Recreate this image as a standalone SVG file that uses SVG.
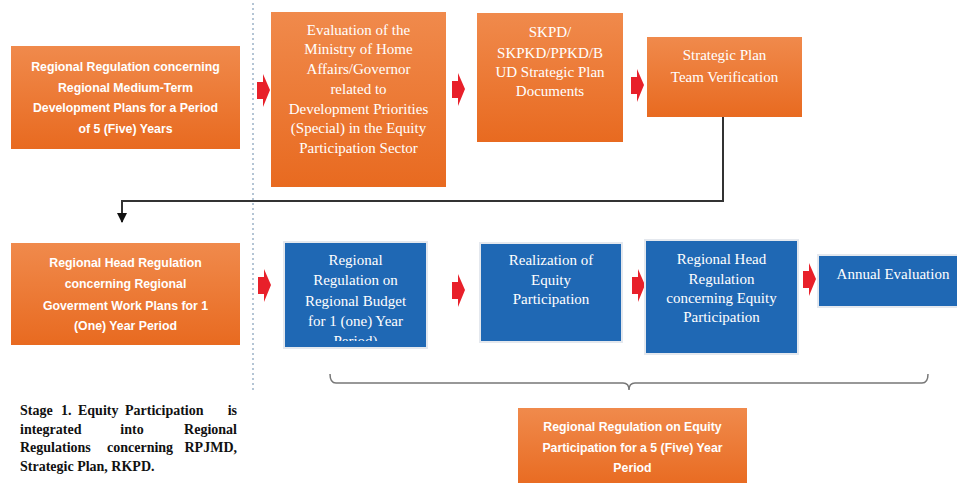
<svg xmlns="http://www.w3.org/2000/svg" width="957" height="483" viewBox="0 0 957 483">
<style>
.org{fill:url(#og)}
.blu{fill:#1F68B4;stroke:#E4E8EE;stroke-width:2}
.sans{font-family:"Liberation Sans",Arial,sans-serif;font-weight:bold;font-size:12.3px;fill:#fff;text-anchor:middle}
.ser{font-family:"Liberation Serif","Times New Roman",serif;font-size:15px;fill:#fff;text-anchor:middle}
.cap{font-family:"Liberation Serif","Times New Roman",serif;font-weight:bold;font-size:14px;fill:#111}
.ra{fill:#E8202A}
.conn{fill:none;stroke:#333;stroke-width:2}
.brace{fill:none;stroke:#777;stroke-width:1.5}
</style>
<defs>
<linearGradient id="og" x1="0" y1="0" x2="0" y2="1">
<stop offset="0" stop-color="#F08A4C"/>
<stop offset="1" stop-color="#E86A20"/>
</linearGradient>
<clipPath id="c6"><rect x="285" y="243" width="141" height="98"/></clipPath>
<marker id="ah" viewBox="0 0 10 10" refX="9" refY="5" markerWidth="5" markerHeight="5" orient="auto-start-reverse" markerUnits="strokeWidth">
<path d="M0,0 L10,5 L0,10 z" fill="#111"/>
</marker>
<path id="rarrow" d="M0,8 L6,8 L6,0 L13,16 L6,33 L6,25 L0,25 z"/>
</defs>
<rect width="957" height="483" fill="#fff"/>
<line x1="253" y1="3" x2="253" y2="393" stroke="#9DB3C8" stroke-width="1.5" stroke-dasharray="2,3"/>

<g id="connectors">
<path class="conn" d="M723,117 V201 H122 V222" marker-end="url(#ah)"/>
<use href="#rarrow" class="ra" x="257" y="74"/>
<use href="#rarrow" class="ra" x="452" y="73"/>
<use href="#rarrow" class="ra" x="631" y="69"/>
<use href="#rarrow" class="ra" x="258" y="269"/>
<use href="#rarrow" class="ra" x="452" y="274"/>
<use href="#rarrow" class="ra" x="632" y="269"/>
<use href="#rarrow" class="ra" x="803" y="263"/>
<path class="brace" d="M330,374 Q330,383 336,383 H623 Q629,383 629,390 Q629,383 635,383 H922 Q928,383 928,374"/>
</g>

<g id="n1"><rect class="org" x="11" y="46" width="229" height="103"/>
<text class="sans"><tspan x="125.5" y="71">Regional Regulation concerning</tspan><tspan x="125.5" y="92">Regional Medium-Term</tspan><tspan x="125.5" y="112">Development Plans for a Period</tspan><tspan x="125.5" y="133">of 5 (Five) Years</tspan></text></g>

<g id="n2"><rect class="org" x="271" y="12" width="175" height="175"/>
<text class="ser"><tspan x="358.5" y="35">Evaluation of the</tspan><tspan x="358.5" y="54">Ministry of  Home</tspan><tspan x="358.5" y="74">Affairs/Governor</tspan><tspan x="358.5" y="94">related to</tspan><tspan x="358.5" y="114">Development Priorities</tspan><tspan x="358.5" y="133">(Special) in the  Equity</tspan><tspan x="358.5" y="153">Participation Sector</tspan></text></g>

<g id="n3"><rect class="org" x="477" y="13" width="146" height="129"/>
<text class="ser"><tspan x="550" y="37">SKPD/</tspan><tspan x="550" y="58">SKPKD/PPKD/B</tspan><tspan x="550" y="77">UD Strategic  Plan</tspan><tspan x="550" y="96">Documents</tspan></text></g>

<g id="n4"><rect class="org" x="647" y="37" width="155" height="80"/>
<text class="ser"><tspan x="724.5" y="60">Strategic Plan</tspan><tspan x="724.5" y="82">Team  Verification</tspan></text></g>

<g id="n5"><rect class="org" x="11" y="243" width="229" height="102"/>
<text class="sans"><tspan x="125.5" y="267">Regional Head Regulation</tspan><tspan x="125.5" y="288">concerning Regional</tspan><tspan x="125.5" y="310">Goverment Work Plans for 1</tspan><tspan x="125.5" y="330">(One) Year Period</tspan></text></g>

<g id="n6"><rect class="blu" x="284" y="242" width="143" height="106"/>
<text class="ser" clip-path="url(#c6)"><tspan x="355.5" y="265">Regional</tspan><tspan x="355.5" y="285">Regulation on</tspan><tspan x="355.5" y="306">Regional Budget</tspan><tspan x="355.5" y="326">for 1 (one) Year</tspan><tspan x="355.5" y="346">Period)</tspan></text></g>

<g id="n7"><rect class="blu" x="480" y="243" width="142" height="99"/>
<text class="ser"><tspan x="551" y="265">Realization of</tspan><tspan x="551" y="285">Equity</tspan><tspan x="551" y="304">Participation</tspan></text></g>

<g id="n8"><rect class="blu" x="645" y="240" width="153" height="114"/>
<text class="ser"><tspan x="721.5" y="264">Regional Head</tspan><tspan x="721.5" y="284">Regulation</tspan><tspan x="721.5" y="303">concerning Equity</tspan><tspan x="721.5" y="322">Participation</tspan></text></g>

<g id="n9"><rect class="blu" x="818" y="255" width="145" height="52"/>
<text class="ser" x="893" y="279">Annual Evaluation</text></g>

<g id="n10"><rect class="org" x="518" y="408" width="229" height="80"/>
<text class="sans"><tspan x="632.5" y="431">Regional Regulation on Equity</tspan><tspan x="632.5" y="452">Participation for a 5 (Five) Year</tspan><tspan x="632.5" y="472">Period</tspan></text></g>

<g id="caption">
<text class="cap"><tspan x="20" y="415">Stage</tspan><tspan x="61" y="415">1.</tspan><tspan x="78" y="415">Equity</tspan><tspan x="125" y="415">Participation</tspan><tspan x="237" y="415" text-anchor="end">is</tspan><tspan x="20" y="434">integrated</tspan><tspan x="132" y="434" text-anchor="middle">into</tspan><tspan x="237" y="434" text-anchor="end">Regional</tspan><tspan x="20" y="452">Regulations</tspan><tspan x="107" y="452">concerning</tspan><tspan x="237" y="452" text-anchor="end">RPJMD,</tspan><tspan x="20" y="471">Strategic Plan, RKPD.</tspan></text>
</g>
</svg>
